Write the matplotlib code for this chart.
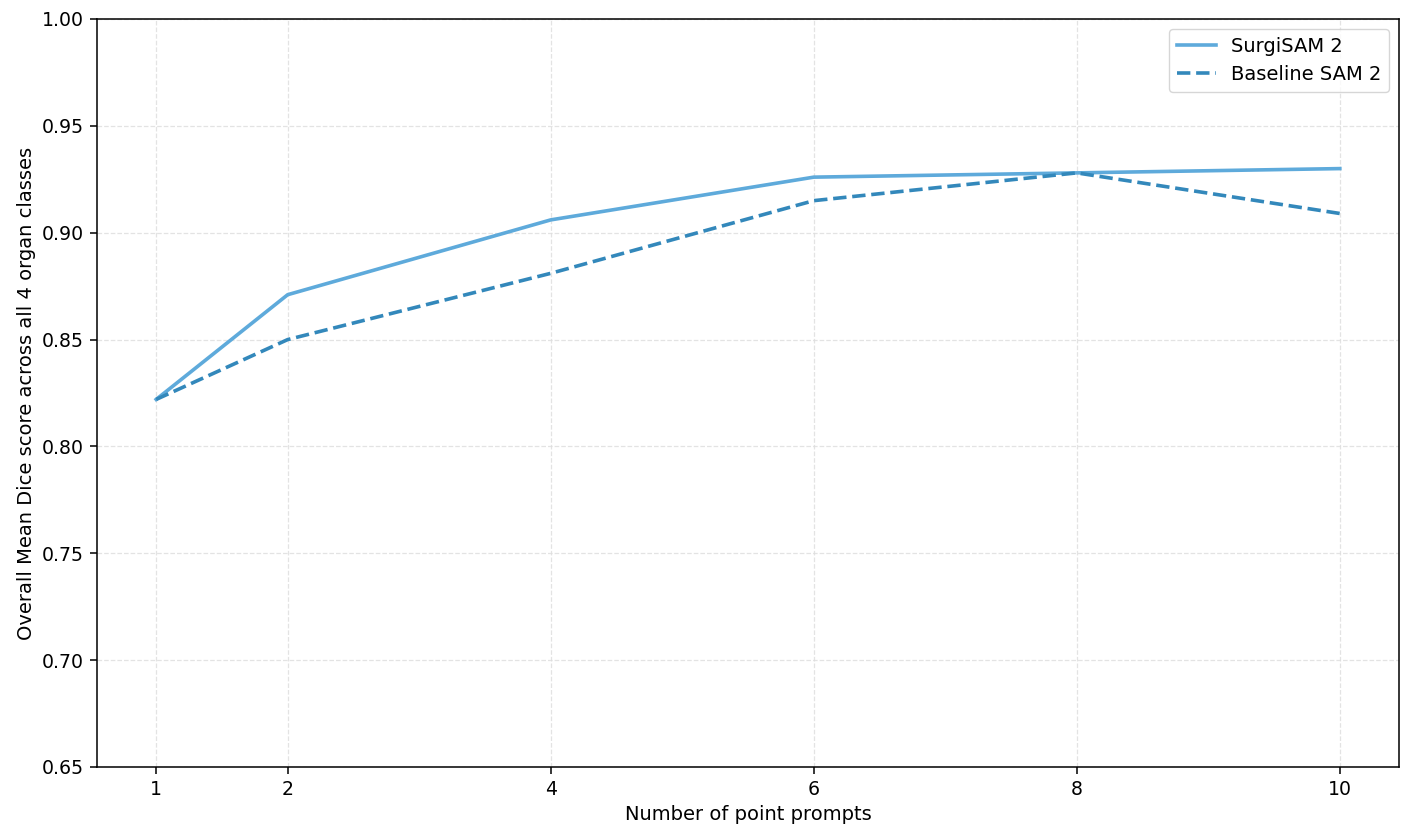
import matplotlib
matplotlib.use("Agg")
import matplotlib.pyplot as plt

prompts = [1, 2, 4, 6, 8, 10]
surgisam = [0.822, 0.871, 0.906, 0.926, 0.928, 0.930]
baseline = [0.822, 0.850, 0.881, 0.915, 0.928, 0.909]
labels = ["SurgiSAM 2", "Baseline SAM 2"]

fig = plt.figure(figsize=(14.02, 8.36), dpi=100)
ax = fig.add_axes([97/1402, 1-767/836, (1399-97)/1402, (767-19)/836])
ax.plot(prompts, surgisam, color="#5eaadb", lw=2.6, label=labels[0])
ax.plot(prompts, baseline, color="#3388bb", lw=2.6, ls="--", label=labels[1])
ax.set_ylim(0.65, 1.00)
ax.set_xticks(prompts)
ax.set_yticks([0.65, 0.70, 0.75, 0.80, 0.85, 0.90, 0.95, 1.00])
ax.set_yticklabels([f"{v:.2f}" for v in ax.get_yticks()])
ax.tick_params(labelsize=13.6, length=5, width=1.1, pad=4.5)
for s in ax.spines.values():
    s.set_linewidth(1.1)
ax.grid(True, ls="--", color="#dddddd", lw=0.9, alpha=0.8)
ax.set_xlabel("Number of point prompts", fontsize=14)
ax.set_ylabel("Overall Mean Dice score across all 4 organ classes", fontsize=14)
ax.legend(loc="upper right", fontsize=14)
fig.savefig("out.png", dpi=100)
